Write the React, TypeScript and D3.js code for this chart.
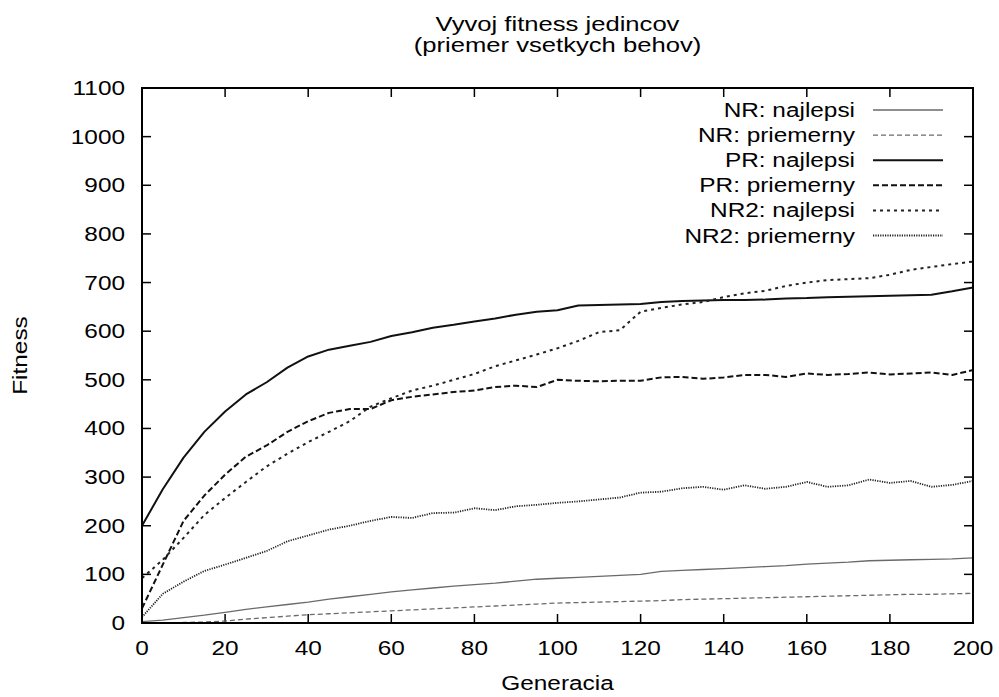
import { useRef, useEffect } from 'react';
import * as d3 from 'd3';

// generations sampled every 5
const gens = [0, 5, 10, 15, 20, 25, 30, 35, 40, 45, 50, 55, 60, 65, 70, 75, 80, 85, 90, 95, 100,
  105, 110, 115, 120, 125, 130, 135, 140, 145, 150, 155, 160, 165, 170, 175, 180, 185, 190, 195, 200];

const nrBest = [3, 6, 11, 16, 22, 28, 33, 38, 43, 49, 54, 59, 64, 68, 72, 76, 79, 82, 86, 90, 92,
  94, 96, 98, 100, 106, 108, 110, 112, 114, 116, 118, 121, 123, 125, 128, 129, 130, 131, 132, 134];
const nrAvg = [0, 0, 1, 2, 4, 8, 11, 14, 17, 19, 21, 23, 25, 27, 29, 31, 33, 35, 37, 39, 41,
  42, 43, 44, 45, 46, 48, 49, 50, 51, 52, 53, 54, 55, 56, 57, 58, 59, 59, 60, 61];
const prBest = [200, 275, 340, 393, 435, 470, 495, 525, 548, 562, 570, 578, 590, 598, 607, 613, 620, 626, 634, 640, 643,
  653, 654, 655, 656, 660, 662, 663, 664, 664, 665, 667, 668, 670, 671, 672, 673, 674, 675, 682, 690];
const prAvg = [30, 120, 210, 262, 305, 342, 365, 393, 415, 432, 440, 440, 458, 465, 470, 475, 478, 485, 488, 485, 500,
  498, 497, 498, 498, 505, 506, 502, 505, 510, 510, 506, 513, 510, 512, 515, 511, 513, 515, 510, 520];
const nr2Best = [92, 130, 175, 222, 257, 290, 322, 348, 372, 393, 415, 445, 462, 478, 488, 500, 512, 528, 540, 552, 565,
  580, 598, 602, 640, 648, 655, 660, 670, 678, 683, 693, 700, 705, 707, 709, 716, 726, 732, 738, 743];
const nr2Avg = [12, 60, 85, 107, 120, 134, 148, 168, 180, 192, 200, 210, 218, 216, 226, 227, 236, 232, 240, 243, 247,
  250, 254, 258, 268, 270, 277, 280, 274, 283, 276, 280, 290, 280, 283, 295, 288, 292, 280, 284, 292];

const seriesNames = ['NR: najlepsi', 'NR: priemerny', 'PR: najlepsi', 'PR: priemerny', 'NR2: najlepsi', 'NR2: priemerny'];
const seriesValues = [nrBest, nrAvg, prBest, prAvg, nr2Best, nr2Avg];

const xTicks = [0, 20, 40, 60, 80, 100, 120, 140, 160, 180, 200];
const yTicks = [0, 100, 200, 300, 400, 500, 600, 700, 800, 900, 1000, 1100];

const styles = [
  { color: '#6a6a6a', width: 1.3, dash: null },
  { color: '#6a6a6a', width: 1.3, dash: '5,3' },
  { color: '#111', width: 2, dash: null },
  { color: '#111', width: 2, dash: '6,3' },
  { color: '#222', width: 2, dash: '3,4' },
  { color: '#222', width: 1.8, dash: '1.2,1.2' },
];

const FONT = '"Liberation Sans", Arial, sans-serif';
const SX = 1.25; // gnuplot text is rendered wide

export default function App() {
  const svgRef = useRef(null);
  const width = 999;
  const height = 697;
  const margin = { top: 88, right: 26, bottom: 74, left: 142 };
  const innerW = width - margin.left - margin.right;
  const innerH = height - margin.top - margin.bottom;

  useEffect(() => {
    const svg = d3.select(svgRef.current);
    svg.selectAll('*').remove();

    const x = d3.scaleLinear().domain([0, 200]).range([0, innerW]);
    const y = d3.scaleLinear().domain([0, 1100]).range([innerH, 0]);

    const wideText = (sel, tx, ty, txt, size, anchor) =>
      sel.append('text')
        .attr('transform', `translate(${tx},${ty}) scale(${SX},1)`)
        .attr('text-anchor', anchor)
        .attr('font-family', FONT)
        .attr('font-size', size)
        .attr('fill', '#000')
        .text(txt);

    // title
    wideText(svg, margin.left + innerW / 2, 31, 'Vyvoj fitness jedincov', 20.5, 'middle');
    wideText(svg, margin.left + innerW / 2, 52, '(priemer vsetkych behov)', 20.5, 'middle');

    const g = svg.append('g').attr('transform', `translate(${margin.left},${margin.top})`);

    // ticks (inward, mirrored)
    const tl = 9;
    xTicks.forEach((t) => {
      g.append('line').attr('x1', x(t)).attr('x2', x(t)).attr('y1', innerH).attr('y2', innerH - tl)
        .attr('stroke', '#000').attr('stroke-width', 1.5);
      g.append('line').attr('x1', x(t)).attr('x2', x(t)).attr('y1', 0).attr('y2', tl)
        .attr('stroke', '#000').attr('stroke-width', 1.5);
      wideText(g, x(t), innerH + 32, String(t), 19.5, 'middle');
    });
    yTicks.forEach((t) => {
      g.append('line').attr('x1', 0).attr('x2', tl).attr('y1', y(t)).attr('y2', y(t))
        .attr('stroke', '#000').attr('stroke-width', 1.5);
      g.append('line').attr('x1', innerW).attr('x2', innerW - tl).attr('y1', y(t)).attr('y2', y(t))
        .attr('stroke', '#000').attr('stroke-width', 1.5);
      wideText(g, -17, y(t) + 7, String(t), 19.5, 'end');
    });

    // axis labels
    wideText(svg, margin.left + innerW / 2, 690, 'Generacia', 19.5, 'middle');
    svg.append('text')
      .attr('transform', `translate(27,${margin.top + innerH / 2}) rotate(-90) scale(${SX},1)`)
      .attr('text-anchor', 'middle')
      .attr('font-family', FONT)
      .attr('font-size', 19.5)
      .text('Fitness');

    const line = d3.line()
      .x((d, i) => x(gens[i]))
      .y((d) => y(d));

    seriesValues.forEach((vals, i) => {
      const s = styles[i];
      g.append('path')
        .datum(vals)
        .attr('fill', 'none')
        .attr('stroke', s.color)
        .attr('stroke-width', s.width)
        .attr('stroke-dasharray', s.dash)
        .attr('stroke-linejoin', 'round')
        .attr('d', line);
    });

    // legend
    seriesNames.forEach((name, i) => {
      const s = styles[i];
      const ly = 110 + i * 25.1;
      wideText(svg, 855, ly + 7, name, 19.5, 'end');
      svg.append('line')
        .attr('x1', 873).attr('x2', 943).attr('y1', ly).attr('y2', ly)
        .attr('stroke', s.color)
        .attr('stroke-width', s.width)
        .attr('stroke-dasharray', s.dash);
    });

    // border
    g.append('rect')
      .attr('width', innerW).attr('height', innerH)
      .attr('fill', 'none').attr('stroke', '#000').attr('stroke-width', 2);
  }, []);

  return (
    <svg ref={svgRef} width={width} height={height}
      style={{ position: 'absolute', left: 0, top: 0, display: 'block', background: '#fff' }} />
  );
}
